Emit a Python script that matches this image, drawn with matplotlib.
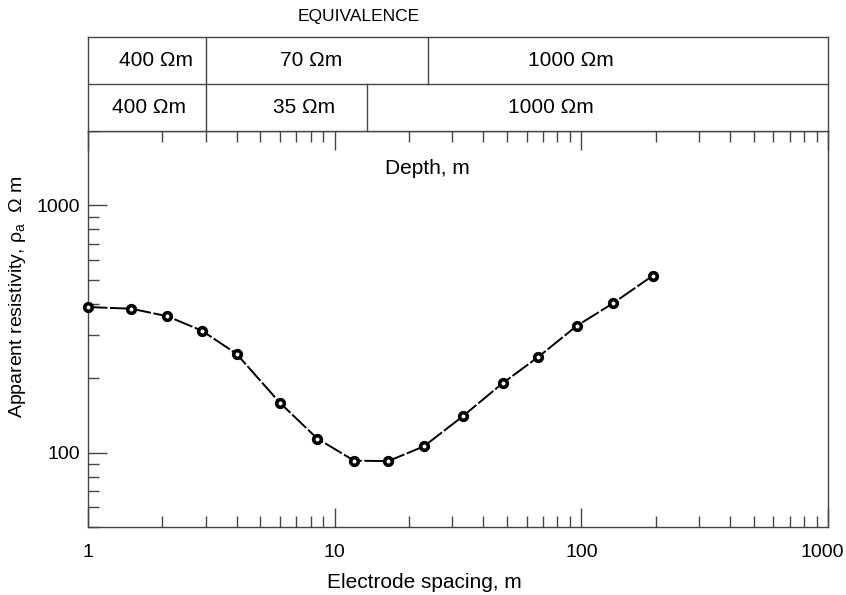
import matplotlib
matplotlib.use("Agg")
import matplotlib.pyplot as plt
import matplotlib.transforms as mtransforms
from matplotlib.ticker import LogLocator, NullFormatter, FixedLocator, FixedFormatter

plt.rcParams['font.family'] = ['Liberation Sans', 'DejaVu Sans']
plt.rcParams['mathtext.fontset'] = 'custom'
plt.rcParams['mathtext.rm'] = 'Liberation Sans'
plt.rcParams['mathtext.it'] = 'Liberation Sans'

# Data: electrode spacing (m) and apparent resistivity (ohm m)
spacing = [1.0, 1.5, 2.1, 2.9, 4.0, 6.0, 8.5, 12.0, 16.5, 23.0, 33.0, 48.0, 67.0, 96.0, 135.0, 195.0]
rho_a = [388, 382, 356, 311, 251, 159, 114, 92.7, 92.4, 106, 140, 191, 244, 326, 403, 520]

# Equivalent layered models (resistivity labels and layer boundary depths, m)
model1_labels = ["400 Ωm", "70 Ωm", "1000 Ωm"]
model1_depths = [3.0, 24.0]
model2_labels = ["400 Ωm", "35 Ωm", "1000 Ωm"]
model2_depths = [3.0, 13.5]

W, H = 846, 595
fig = plt.figure(figsize=(W / 100, H / 100), dpi=100)

L, R = 88, 828
ax = fig.add_axes([L / W, 1 - 527 / H, (R - L) / W, (527 - 131) / H])
axt = fig.add_axes([L / W, 1 - 131 / H, (R - L) / W, (131 - 37) / H])

spine_c = '#444444'
for a in (ax, axt):
    for s in a.spines.values():
        s.set_color(spine_c)
        s.set_linewidth(1.0)

ax.plot(spacing, rho_a, color='black', lw=1.4, linestyle=(0, (10, 1.3)),
        marker='o', ms=5.5, mfc='white', mec='black', mew=2.6, clip_on=False, zorder=3)

ax.set_xscale('log')
ax.set_yscale('log')
ax.set_xlim(1, 1000)
ax.set_ylim(50, 2000)

ax.xaxis.set_major_locator(FixedLocator([1, 10, 100, 1000]))
ax.xaxis.set_major_formatter(FixedFormatter(['1', '10', '100', '1000']))
ax.xaxis.set_minor_locator(LogLocator(base=10, subs=range(2, 10), numticks=20))
ax.xaxis.set_minor_formatter(NullFormatter())
ax.yaxis.set_major_locator(FixedLocator([100, 1000]))
ax.yaxis.set_major_formatter(FixedFormatter(['100', '1000']))
ax.yaxis.set_minor_locator(LogLocator(base=10, subs=range(2, 10), numticks=20))
ax.yaxis.set_minor_formatter(NullFormatter())

ax.tick_params(axis='both', which='major', direction='in', length=14, width=1.0,
               color=spine_c, labelsize=14, pad=12)
ax.tick_params(axis='both', which='minor', direction='in', length=8, width=1.0, color=spine_c)
ax.tick_params(axis='x', which='both', top=True, labeltop=False)
ax.tick_params(axis='y', which='both', right=False)
ax.tick_params(axis='y', which='major', pad=6)

fig.canvas.draw()
last = ax.get_xticklabels()[-1]
last.set_transform(last.get_transform() + mtransforms.ScaledTranslation(-0.06, 0, fig.dpi_scale_trans))

ax.set_xlabel('Electrode spacing, m', fontsize=15)
ax.xaxis.set_label_coords((424 - L) / (R - L), -(582 - 527) / (527 - 131))
ax.xaxis.label.set_va('center')
ax.set_ylabel('Apparent resistivity, ρ$_\\mathrm{a}$  Ω m', fontsize=14)
ax.yaxis.set_label_coords(-(88 - 18) / (R - L), (527 - 297) / (527 - 131))
ax.yaxis.label.set_va('center')
ax.text((427 - L) / (R - L), (527 - 168) / (527 - 131), 'Depth, m', transform=ax.transAxes,
        ha='center', va='center', fontsize=15)

# Top equivalence panel
axt.set_xscale('log')
axt.set_xlim(1, 1000)
axt.set_ylim(0, 2)
axt.set_xticks([])
axt.set_yticks([])
axt.minorticks_off()
axt.axhline(1, color=spine_c, lw=1.0)
for d in model1_depths:
    axt.plot([d, d], [1, 2], color=spine_c, lw=1.0)
for d in model2_depths:
    axt.plot([d, d], [0, 1], color=spine_c, lw=1.0)

pos1 = [1.88, 8.06, 90.8]
pos2 = [1.76, 7.55, 75.0]
for lab, x in zip(model1_labels, pos1):
    axt.text(x, 1.5, lab, ha='center', va='center', fontsize=15)
for lab, x in zip(model2_labels, pos2):
    axt.text(x, 0.5, lab, ha='center', va='center', fontsize=15)

fig.text(359 / W, 1 - 17 / H, 'EQUIVALENCE', ha='center', va='center', fontsize=12.5)

fig.savefig('out.png', dpi=100)
